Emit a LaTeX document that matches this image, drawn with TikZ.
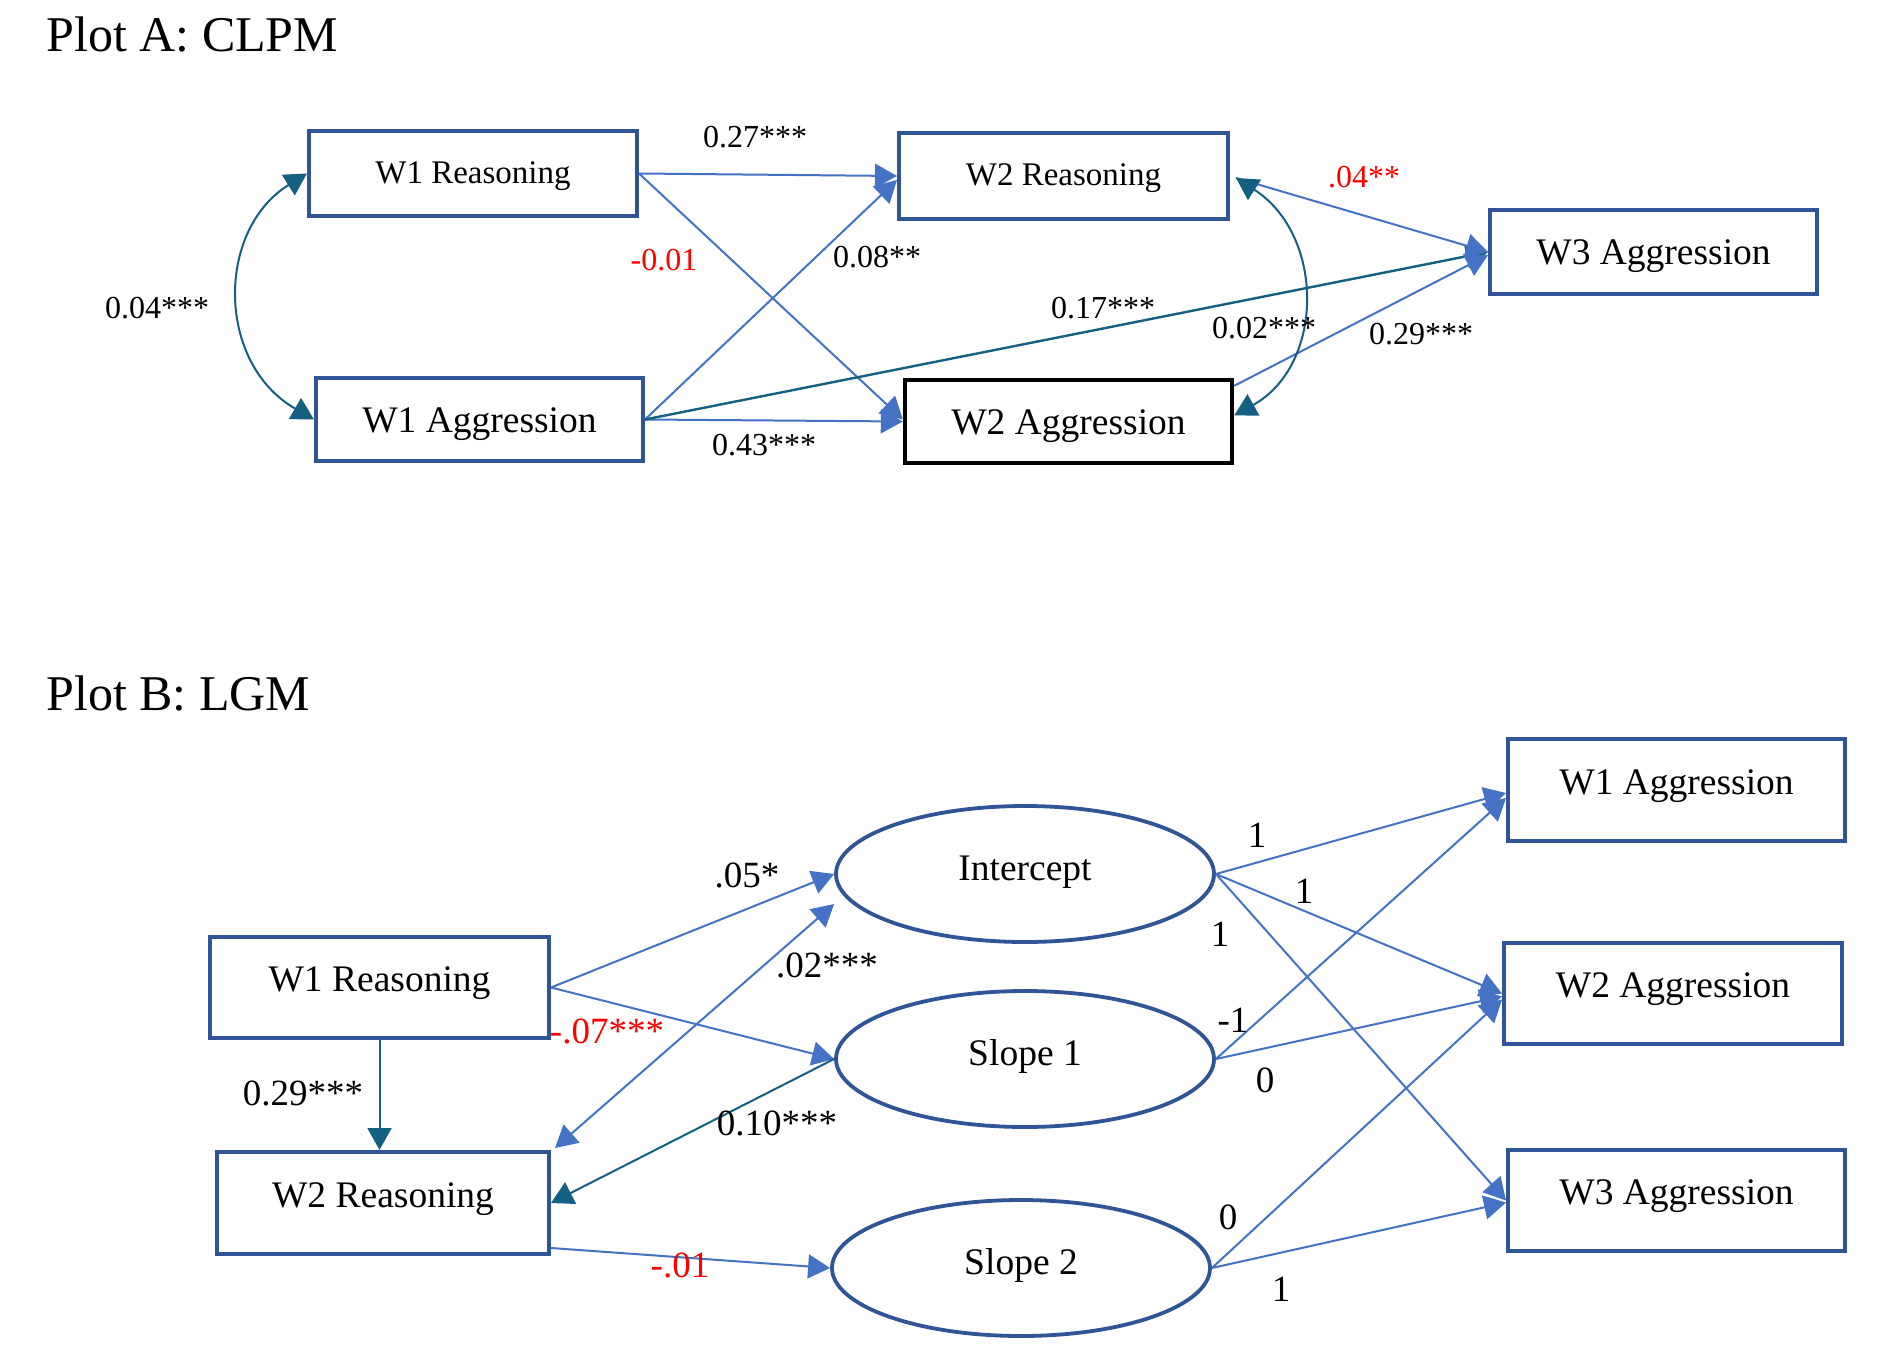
\documentclass[tikz,border=0pt]{standalone}
\usepackage{fontspec}
\setmainfont{Liberation Serif}
\usetikzlibrary{arrows.meta,shapes.geometric,calc}
\definecolor{boxblue}{HTML}{2F5597}
\definecolor{lineblue}{HTML}{4472C4}
\definecolor{tealc}{HTML}{156082}
\definecolor{redc}{HTML}{FF0000}
\newcommand{\shiftt}[2]{\raisebox{#1}[0.7em][0.22em]{#2}}
\begin{document}
\begin{tikzpicture}[x=0.5pt,y=-0.5pt,
  >={Triangle[length=11pt,width=12pt]},
  boxA/.style={draw=boxblue, line width=2pt, rectangle, inner sep=0pt},
  boxK/.style={draw=black, line width=2.2pt, rectangle, inner sep=0pt},
  ell/.style={draw=boxblue, line width=1.9pt, ellipse, inner sep=0pt, minimum width=189pt, minimum height=68pt, font=\fontsize{18.75}{20}\selectfont},
  fontR/.style={font=\fontsize{16.5}{18}\selectfont},
  fontAg/.style={font=\fontsize{18.75}{20}\selectfont},
  labA/.style={inner sep=0pt, font=\fontsize{16}{18}\selectfont},
  labB/.style={inner sep=0pt, font=\fontsize{18.5}{20}\selectfont},
  title/.style={inner sep=0pt, anchor=west, font=\fontsize{25}{28}\selectfont},
  arr/.style={lineblue, line width=1pt, ->},
  darr/.style={lineblue, line width=1pt, <->},
  tarr/.style={tealc, line width=1pt, ->},
  tdarr/.style={tealc, line width=1pt, <->}
]
\useasboundingbox (0,0) rectangle (1884,1364);
\fill[white] (0,0) rectangle (1884,1364);

% ---------- Plot A ----------
\node[title] (tA) at (46,35) {Plot A: CLPM};
\node[boxA, fontR, minimum width=164pt, minimum height=42.5pt] (w1rA) at (473,173.5) {\shiftt{-1pt}{W1 Reasoning}};
\node[boxA, fontAg, minimum width=163.5pt, minimum height=41.5pt] (w1aA) at (479.5,419.5) {\shiftt{-1.8pt}{W1 Aggression}};
\node[boxA, fontR, minimum width=164.5pt, minimum height=43pt] (w2rA) at (1063.5,176) {\shiftt{-1pt}{W2 Reasoning}};
\node[boxK, fontAg, minimum width=163.5pt, minimum height=41.5pt] (w2aA) at (1068.5,421.5) {\shiftt{-1.8pt}{W2 Aggression}};
\node[boxA, fontAg, minimum width=163.5pt, minimum height=42pt] (w3aA) at (1653.5,252) {\shiftt{-1.8pt}{W3 Aggression}};

\draw[arr] (w1rA.east) -- (w2rA.west);
\draw[arr] (w1rA.east) -- ($(w2aA.west)+(0,-2)$);
\draw[arr] (w1aA.east) -- ($(w2rA.west)+(0,4)$);
\draw[arr] (w1aA.east) -- (w2aA.west);
\draw[tarr, line width=1.2pt] (w1aA.east) -- (w3aA.west);
\draw[arr] ($(w2aA.north east)+(0,8)$) -- ($(w3aA.west)+(0,3)$);
\draw[arr] ($(w2rA.east)+(6,2)$) -- (w3aA.west);
\draw[tdarr] (w1rA.west) .. controls (216,230) and (216,363) .. (w1aA.west);
\draw[tdarr] ($(w2rA.east)+(6,2)$) .. controls (1325,235) and (1325,365) .. ($(w2aA.east)+(0,-6)$);

\node[labA] (l1) at (755,137) {0.27***};
\node[labA, text=redc] (l2) at (664,260) {-0.01};
\node[labA] (l3) at (877,257) {0.08**};
\node[labA] (l4) at (157,308) {0.04***};
\node[labA] (l5) at (764,445) {0.43***};
\node[labA] (l6) at (1103,308) {0.17***};
\node[labA] (l7) at (1264,328) {0.02***};
\node[labA] (l8) at (1421,334) {0.29***};
\node[labA, text=redc] (l9) at (1364,177) {.04**};

% ---------- Plot B ----------
\node[title] (tB) at (46,694) {Plot B: LGM};
\node[boxA, fontAg, minimum width=169.5pt, minimum height=50.5pt] (w1rB) at (379.5,987.5) {\shiftt{2.5pt}{W1 Reasoning}};
\node[boxA, fontAg, minimum width=166pt, minimum height=51pt] (w2rB) at (383,1203) {\shiftt{2.5pt}{W2 Reasoning}};
\node[ell] (int) at (1025,874) {\shiftt{1.2pt}{Intercept}};
\node[ell] (s1) at (1025,1059) {\shiftt{1.2pt}{Slope 1}};
\node[ell] (s2) at (1021,1268) {\shiftt{1.2pt}{Slope 2}};
\node[boxA, fontAg, minimum width=168.5pt, minimum height=51pt] (w1aB) at (1676.5,790) {\shiftt{2.5pt}{W1 Aggression}};
\node[boxA, fontAg, minimum width=169pt, minimum height=50.5pt] (w2aB) at (1673,993.5) {\shiftt{2.5pt}{W2 Aggression}};
\node[boxA, fontAg, minimum width=168.5pt, minimum height=50.5pt] (w3aB) at (1676.5,1200.5) {\shiftt{2.5pt}{W3 Aggression}};

\draw[arr] (w1rB.east) -- (int.west);
\draw[arr] (w1rB.east) -- (s1.west);
\draw[darr] ($(w2rB.north east)+(4,-2)$) -- ($(int.west)+(0,30)$);
\draw[tarr] (s1.west) -- (w2rB.east);
\draw[tarr] (w1rB.south) -- (w1rB.south |- w2rB.north);
\draw[arr] ($(w2rB.south east)+(0,-8)$) -- (s2.west);
\draw[arr] (int.east) -- ($(w1aB.west)+(0,3)$);
\draw[arr] (int.east) -- (w2aB.west);
\draw[arr] (int.east) -- (w3aB.west);
\draw[arr] (s1.east) -- ($(w1aB.west)+(0,8)$);
\draw[arr] (s1.east) -- ($(w2aB.west)+(0,3)$);
\draw[arr] (s2.east) -- ($(w2aB.west)+(0,6)$);
\draw[arr] (s2.east) -- ($(w3aB.west)+(0,2)$);

\node[labB] (m1) at (747,875) {.05*};
\node[labB] (m2) at (827,965) {.02***};
\node[labB, text=redc] (m3) at (607,1031) {-.07***};
\node[labB] (m4) at (303,1093) {0.29***};
\node[labB] (m5) at (777,1123) {0.10***};
\node[labB, text=redc] (m6) at (680,1265) {-.01};
\node[labB] (n1) at (1257,835) {1};
\node[labB] (n2) at (1304,891) {1};
\node[labB] (n3) at (1220,934) {1};
\node[labB] (n4) at (1233,1020) {-1};
\node[labB] (n5) at (1265,1080) {0};
\node[labB] (n6) at (1228,1217) {0};
\node[labB] (n7) at (1281,1289) {1};
\end{tikzpicture}
\end{document}
